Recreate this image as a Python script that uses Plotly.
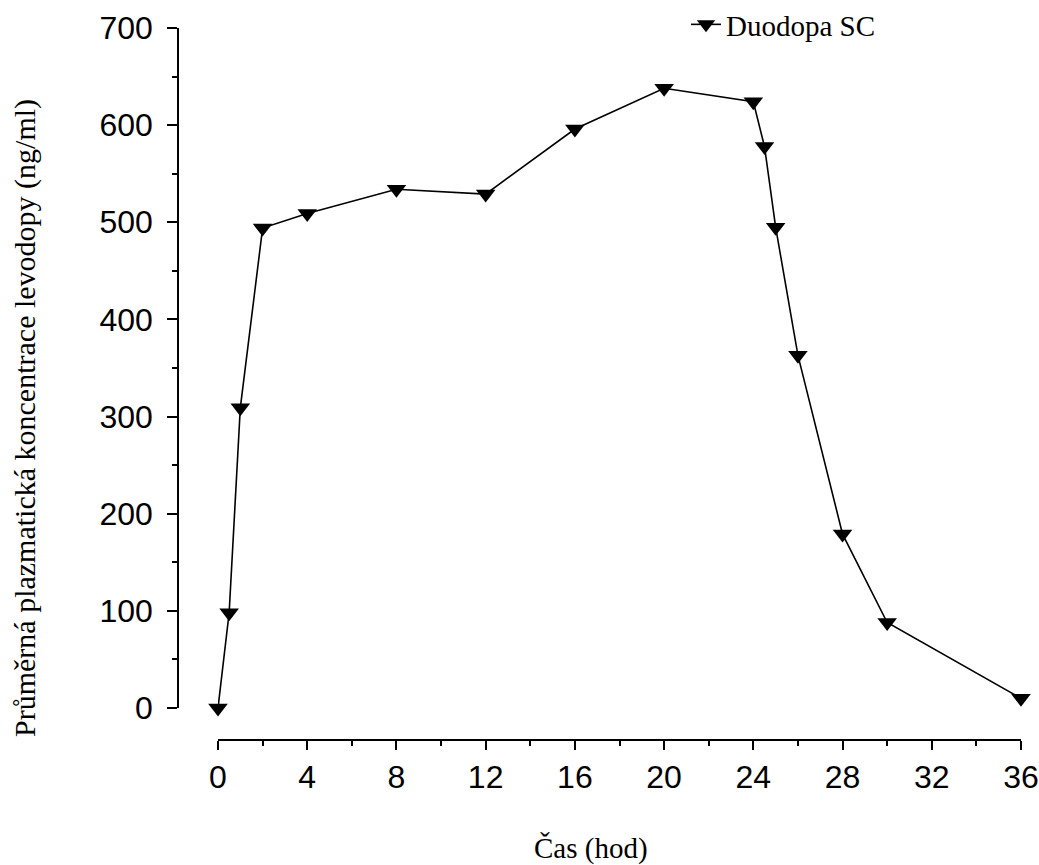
import plotly.graph_objects as go

# Data
time_h = [0, 0.5, 1, 2, 4, 8, 12, 16, 20, 24, 24.5, 25, 26, 28, 30, 36]
conc = [0, 98, 309, 494, 509, 534, 529, 596, 638, 624, 578, 495, 363, 179, 88, 10]
x_ticks = [0, 4, 8, 12, 16, 20, 24, 28, 32, 36]
y_ticks = [0, 100, 200, 300, 400, 500, 600, 700]
series_name = "Duodopa SC"
x_title = "Čas (hod)"
y_title = "Průměrná plazmatická koncentrace levodopy (ng/ml)"

W, H = 1039, 865
L, T = 178, 28
pw = 1021 - 178
ph = 740 - 28
R = W - L - pw
B = H - T - ph

fig = go.Figure()
fig.add_trace(go.Scatter(
    x=time_h, y=conc, mode="lines+markers", name=series_name,
    line=dict(color="black", width=1.6),
    marker=dict(symbol="triangle-down", size=17, color="black"),
    cliponaxis=False,
))

tick_font = dict(family="Liberation Sans, Arial", size=32, color="black")
serif = dict(family="Liberation Serif, Times New Roman", size=29, color="black")
serif_y = dict(family="Liberation Serif, Times New Roman", size=30, color="black")

fig.update_layout(
    width=W, height=H,
    margin=dict(l=L, r=R, t=T, b=B, pad=0, autoexpand=False),
    paper_bgcolor="white", plot_bgcolor="white",
    showlegend=True,
    legend=dict(
        x=(686 - 178) / pw, y=1 + 29 / ph, xref="paper", yref="paper",
        xanchor="left", yanchor="top",
        font=serif, bgcolor="rgba(0,0,0,0)", borderwidth=0,
        itemwidth=30,
    ),
    xaxis=dict(
        domain=[40 / pw, 1], range=[0, 36], anchor="free", position=0,
        showline=True, linecolor="black", linewidth=1.5,
        ticks="outside", ticklen=9, tickwidth=1.5, tickcolor="black",
        tickvals=x_ticks, tickfont=tick_font, ticklabeloverflow="allow",
        minor=dict(ticks="outside", ticklen=5, tickwidth=1.5, tickcolor="black", dtick=2, tick0=0),
        showgrid=False, zeroline=False, automargin=False,
    ),
    yaxis=dict(
        domain=[(740 - 708) / ph, 1], range=[0, 700], anchor="free", position=0,
        showline=True, linecolor="black", linewidth=1.5,
        ticks="outside", ticklen=10, tickwidth=1.5, tickcolor="black",
        tickvals=y_ticks, tickfont=tick_font, ticklabelstandoff=8,
        ticklabeloverflow="allow",
        minor=dict(ticks="outside", ticklen=5, tickwidth=1.5, tickcolor="black", dtick=50, tick0=0),
        showgrid=False, zeroline=False, automargin=False,
    ),
    annotations=[
        dict(text=x_title, xref="paper", yref="paper",
             x=(591 - 178) / pw, y=(740 - 848) / ph,
             xanchor="center", yanchor="middle", showarrow=False, font=serif),
        dict(text=y_title, xref="paper", yref="paper", textangle=-90,
             x=(25 - 178) / pw, y=(740 - 418) / ph,
             xanchor="center", yanchor="middle", showarrow=False, font=serif_y),
    ],
)

fig.write_html(
    "out.html",
    config={"displayModeBar": False},
    post_script="document.body.style.margin='0';document.body.style.overflow='hidden';",
)
